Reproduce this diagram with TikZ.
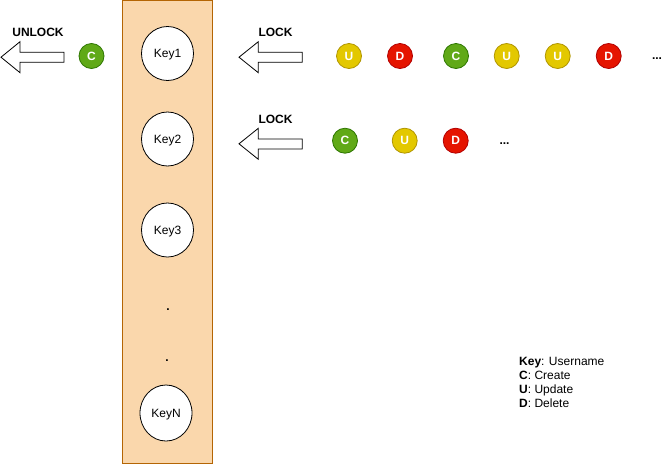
\documentclass[tikz,border=0pt]{standalone}
\usepackage{fontspec}
\setmainfont{Liberation Sans}
\definecolor{panelfill}{HTML}{FAD7AC}
\definecolor{paneldraw}{HTML}{B46504}
\definecolor{gfill}{HTML}{60A917}
\definecolor{gdraw}{HTML}{2D7600}
\definecolor{yfill}{HTML}{E3C800}
\definecolor{ydraw}{HTML}{B09500}
\definecolor{rfill}{HTML}{E51400}
\definecolor{rdraw}{HTML}{B20000}
\tikzset{
  keynode/.style={ellipse, draw=black, fill=white, line width=0.8pt, minimum width=52pt, minimum height=54pt, inner sep=0pt, text depth=0pt, font=\fontsize{12}{14}\selectfont},
  op/.style={circle, line width=0.8pt, minimum size=25pt, inner sep=0pt, text=white, font=\fontsize{12}{14}\selectfont\bfseries},
  opc/.style={op, fill=gfill, draw=gdraw},
  opu/.style={op, fill=yfill, draw=ydraw},
  opd/.style={op, fill=rfill, draw=rdraw},
  lbl/.style={inner sep=0pt, font=\fontsize{12}{14}\selectfont\bfseries},
  leg/.style={inner sep=0pt, anchor=base west, font=\fontsize{12}{14}\selectfont},
  bigarrow/.style={draw=black, fill=white, line width=0.8pt, line join=miter},
}
\usetikzlibrary{shapes.geometric}
\begin{document}
\begin{tikzpicture}[x=1pt,y=-1pt]
\useasboundingbox (0,0) rectangle (668,464);
% panel
\draw[fill=panelfill, draw=paneldraw, line width=0.8pt] (122.5,0.5) rectangle (212.5,463.5);
% keys
\node[keynode] (k1) at (167.5,53.5) {Key1};
\node[keynode] (k2) at (167.5,139) {Key2};
\node[keynode] (k3) at (167.5,230) {Key3};
\node[keynode, minimum height=56pt] (kn) at (166,413) {KeyN};
\node[lbl] (dot1) at (168,310) {.};
\node[lbl] (dot2) at (167,361) {.};
% unlock arrow
\draw[bigarrow] (1,57.2) -- (20,41.7) -- (20,52.3) -- (64,52.3) -- (64,62.3) -- (20,62.3) -- (20,72.7) -- cycle;
\node[lbl] (unlock) at (38,32.5) {UNLOCK};
\node[opc] (c0) at (91.5,56) {C};
% lock arrow 1
\draw[bigarrow] (239,57.2) -- (258.3,41.7) -- (258.3,52.3) -- (302.3,52.3) -- (302.3,62.3) -- (258.3,62.3) -- (258.3,72.7) -- cycle;
\node[lbl] (lock1) at (275.5,32.5) {LOCK};
% lock arrow 2
\draw[bigarrow] (239,143.8) -- (258.3,128.3) -- (258.3,138.9) -- (302.3,138.9) -- (302.3,148.9) -- (258.3,148.9) -- (258.3,159.3) -- cycle;
\node[lbl] (lock2) at (275.5,119.5) {LOCK};
% row 1
\node[opu] (r1a) at (349,56) {U};
\node[opd] (r1b) at (400,56) {D};
\node[opc] (r1c) at (456,56) {C};
\node[opu] (r1d) at (506.7,56) {U};
\node[opu] (r1e) at (557.7,56) {U};
\node[opd] (r1f) at (608.7,56) {D};
\node[lbl] (r1g) at (657,58.5) {...};
% row 2
\node[opc] (r2a) at (345,140.7) {C};
\node[opu] (r2b) at (404.7,140.7) {U};
\node[opd] (r2c) at (455.7,140.7) {D};
\node[lbl] (r2d) at (504.5,144) {...};
% legend
\node[leg] (l1) at (519,365.3) {\textbf{Key}: Username};
\node[leg] (l2) at (519,379.3) {\textbf{C}: Create};
\node[leg] (l3) at (519,393.3) {\textbf{U}: Update};
\node[leg] (l4) at (519,407.3) {\textbf{D}: Delete};
\end{tikzpicture}
\end{document}
